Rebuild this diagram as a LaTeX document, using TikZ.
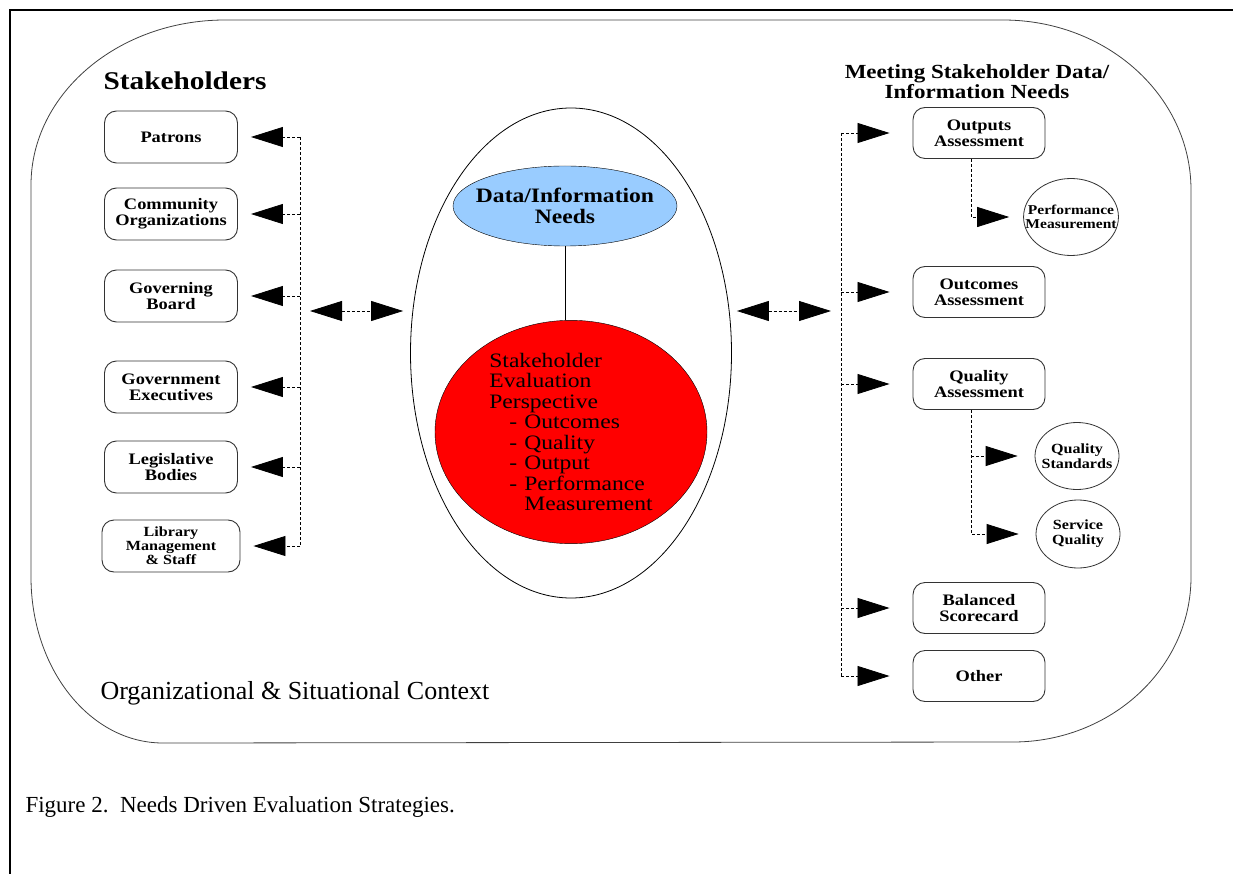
\documentclass[tikz,border=0pt]{standalone}
\usepackage{fontspec}
\setmainfont{Liberation Serif}
\newfontfamily\wide[FakeStretch=1.15]{Liberation Serif}
\usepackage{tikz}
\usetikzlibrary{shapes.geometric,arrows.meta}
\definecolor{needblue}{RGB}{153,204,255}
\definecolor{perspred}{RGB}{255,0,0}
\tikzstyle{stake} = [draw=black!80, line width=0.9pt, rounded corners=12pt, minimum width=133pt, minimum height=52pt, inner sep=0pt, align=center, font=\wide\fontsize{16}{16}\selectfont\bfseries]
\tikzstyle{meet} = [stake, minimum width=132pt, minimum height=51pt]
\tikzstyle{sub} = [draw=black!80, line width=0.8pt, ellipse, inner sep=-12pt, align=center, font=\wide\fontsize{14}{15}\selectfont\bfseries]
\tikzstyle{bus} = [line width=0.8pt, dash pattern=on 3pt off 2pt]
\tikzstyle{link} = [bus, -{Triangle[length=32pt,width=20pt]}]
\tikzstyle{pair} = [bus, {Triangle[length=32pt,width=20pt]}-{Triangle[length=32pt,width=20pt]}]
\newcommand{\persp}[1]{\hspace*{20pt}\makebox[15pt][l]{-}#1}

\begin{document}
\begin{tikzpicture}[x=1pt, y=-1pt]
		\useasboundingbox (0,0) rectangle (1233,874);
		\draw[line width=2pt] (10,874) -- (10,10) -- (1233,10);
		
		% context outline
		\draw[line width=0.8pt, black!75] (225,20) -- (1003,20)
			.. controls (1107,20) and (1191,96) .. (1191,190) -- (1191,577)
			.. controls (1191,668) and (1111,742) .. (1013,742) -- (163,743)
			.. controls (90,743) and (31,669) .. (31,577) -- (31,185)
			.. controls (31,94) and (118,20) .. (225,20) -- cycle;
		
		\node[anchor=base west, font=\wide\fontsize{25.5}{30}\selectfont\bfseries] (stk) at (100,90) {Stakeholders};
		\node[align=center, font=\wide\fontsize{20}{20}\selectfont\bfseries] (mtg) at (977,82) {Meeting Stakeholder Data/\\Information Needs};
		\node[anchor=base west, font=\fontsize{26}{30}\selectfont] (org) at (97,699) {Organizational \& Situational Context};
		\node[anchor=base west, font=\fontsize{23}{27}\selectfont] (cap) at (22,812) {Figure 2.\ \ Needs Driven Evaluation Strategies.};
		
		\node[draw, line width=0.8pt, ellipse, minimum width=321pt, minimum height=490pt] (ctx) at (571,353) {};
		\node[draw, ellipse, fill=needblue, minimum width=224pt, minimum height=80pt, inner sep=-12pt, align=center, font=\wide\fontsize{20.5}{20.5}\selectfont\bfseries] (need) at (565,206) {Data/Information\\Needs};
		\node[draw, ellipse, fill=perspred, minimum width=272pt, minimum height=218pt, inner sep=0pt, align=left, font=\wide\fontsize{20.5}{20.5}\selectfont] (per) at (571,432) {Stakeholder\\Evaluation\\Perspective\\\persp{Outcomes}\\\persp{Quality}\\\persp{Output}\\\persp{Performance}\\\hspace*{35pt}Measurement};
		\draw (need.south) -- (need.south |- per.north);
		
		\node[stake] (pat) at (171,137) {Patrons};
		\node[stake, below of=pat, node distance=77pt] (com) {Community\\Organizations};
		\node[stake, below of=com, node distance=82pt] (gov) {Governing\\Board};
		\node[stake, below of=gov, node distance=91pt] (exe) {Government\\Executives};
		\node[stake, below of=exe, node distance=80pt] (leg) {Legislative\\Bodies};
		\node[stake, below of=leg, node distance=79pt, minimum width=138pt, font=\wide\fontsize{14}{14}\selectfont\bfseries] (lib) {Library\\Management\\\& Staff};
		
		\node[meet] (outa) at (979,133) {Outputs\\Assessment};
		\node[meet, below of=outa, node distance=159pt] (outc) {Outcomes\\Assessment};
		\node[meet, below of=outc, node distance=92pt] (qual) {Quality\\Assessment};
		\node[meet, below of=qual, node distance=224pt] (bal) {Balanced\\Scorecard};
		\node[meet, below of=bal, node distance=68pt] (oth) {Other};
		
		\node[sub, minimum width=93pt, minimum height=77pt, font=\wide\fontsize{13.5}{14}\selectfont\bfseries] (perf) at (1071,217) {Performance\\Measurement};
		\node[sub, minimum width=84pt, minimum height=67pt] (qstd) at (1077,456) {Quality\\Standards};
		\node[sub, minimum width=84pt, minimum height=68pt] (svc) at (1078,534) {Service\\Quality};
		
		\coordinate (lbus) at (300,0);
		\coordinate (rbus) at (841,0);
		\draw[bus] (lbus |- pat) -- (lbus |- lib);
		\foreach \n in {pat,com,gov,exe,leg,lib}
			\draw[link, shorten >=13pt] (lbus |- \n) -- (\n.east);
		\draw[bus] (rbus |- outa) -- (rbus |- oth);
		\foreach \n in {outa,outc,qual,bal,oth}
			\draw[link, shorten >=23pt] (rbus |- \n) -- (\n.west);
		
		\draw[pair, shorten <=10pt, shorten >=7pt] (lbus |- 0,311) -- (ctx.west |- 0,311);
		\draw[pair, shorten <=5pt, shorten >=10pt] (ctx.east |- 0,311) -- (rbus |- 0,311);
		
		\draw[link, shorten >=14pt] ([xshift=-8pt]outa.south) |- (perf.west);
		\coordinate (qbus) at ([xshift=-8pt]qual.south);
		\draw[link, shorten >=17pt] (qbus) |- (svc.west);
		\draw[link, shorten >=17pt] (qbus |- qstd) -- (qstd.west);
\end{tikzpicture}
\end{document}
